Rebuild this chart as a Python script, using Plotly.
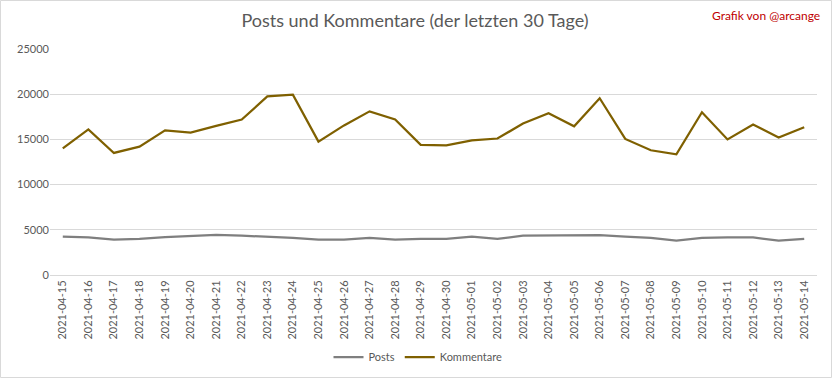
import plotly.graph_objects as go

dates = ["2021-04-15", "2021-04-16", "2021-04-17", "2021-04-18", "2021-04-19", "2021-04-20",
         "2021-04-21", "2021-04-22", "2021-04-23", "2021-04-24", "2021-04-25", "2021-04-26",
         "2021-04-27", "2021-04-28", "2021-04-29", "2021-04-30", "2021-05-01", "2021-05-02",
         "2021-05-03", "2021-05-04", "2021-05-05", "2021-05-06", "2021-05-07", "2021-05-08",
         "2021-05-09", "2021-05-10", "2021-05-11", "2021-05-12", "2021-05-13", "2021-05-14"]

posts = [4250, 4150, 3900, 4000, 4200, 4350, 4450, 4350, 4250, 4100,
         3900, 3900, 4100, 3900, 4000, 4000, 4250, 4000, 4350, 4350,
         4400, 4400, 4250, 4100, 3800, 4100, 4150, 4150, 3800, 4000]

kommentare = [14000, 16100, 13500, 14200, 16000, 15750, 16500, 17200, 19750, 19950,
              14750, 16550, 18100, 17200, 14400, 14350, 14900, 15100, 16750, 17900,
              16450, 19550, 15050, 13800, 13350, 18000, 15000, 16650, 15200, 16350]

y_ticks = [0, 5000, 10000, 15000, 20000, 25000]
y_labels = ["0", "5000", "10000", "15000", "20000", "25000"]

FONT = "Lato, sans-serif"
W, H = 832, 378
L, R, T, B = 50, 15, 49, 103
pw, ph = W - L - R, H - T - B

fig = go.Figure()
fig.add_trace(go.Scatter(x=dates, y=posts, name="Posts", mode="lines",
                         line=dict(color="#7f7f7f", width=2.25)))
fig.add_trace(go.Scatter(x=dates, y=kommentare, name="Kommentare", mode="lines",
                         line=dict(color="#7f6000", width=2.25)))

fig.update_layout(
    width=W, height=H,
    margin=dict(l=L, r=R, t=T, b=B, autoexpand=False),
    paper_bgcolor="white", plot_bgcolor="white",
    font=dict(family=FONT, color="#595959", size=11),
    title=dict(text="Posts und Kommentare (der letzten 30 Tage)",
               font=dict(family=FONT, size=18, color="#595959"),
               x=415 / W, xanchor="center", y=1 - 21 / H, yanchor="middle"),
    showlegend=True,
    legend=dict(orientation="h", xref="container", x=418 / W, xanchor="center",
                yref="container", y=1 - 357 / H, yanchor="middle",
                font=dict(family=FONT, size=11, color="#595959"),
                itemwidth=30, traceorder="normal"),
    xaxis=dict(type="category", tickangle=-90, showgrid=False, ticks="",
               showline=True, linecolor="#d9d9d9", linewidth=1, automargin=False,
               tickfont=dict(family=FONT, size=11, color="#595959"),
               range=[-0.5, len(dates) - 0.5]),
    yaxis=dict(range=[0, 25000], tickvals=y_ticks, ticktext=y_labels,
               showgrid=True, gridcolor="#d9d9d9", automargin=False,
               gridwidth=1, zeroline=False, ticks="", showline=False,
               tickfont=dict(family=FONT, size=11, color="#595959")),
)

fig.add_annotation(text="Grafik von @arcange", xref="paper", yref="paper",
                   x=(822 - L) / pw, xanchor="right", y=(H - B - 15) / ph, yanchor="middle",
                   showarrow=False, font=dict(family=FONT, size=12, color="#c00000"))

fig.add_shape(type="rect", xref="paper", yref="paper",
              x0=(0.5 - L) / pw, x1=(W - 0.5 - L) / pw,
              y0=(H - B - (H - 0.5)) / ph, y1=(H - B - 0.5) / ph,
              line=dict(color="#d9d9d9", width=1), layer="below")

fig.write_html("out.html", config={"displayModeBar": False},
               post_script="document.body.style.margin='0';document.body.style.overflow='hidden';")
